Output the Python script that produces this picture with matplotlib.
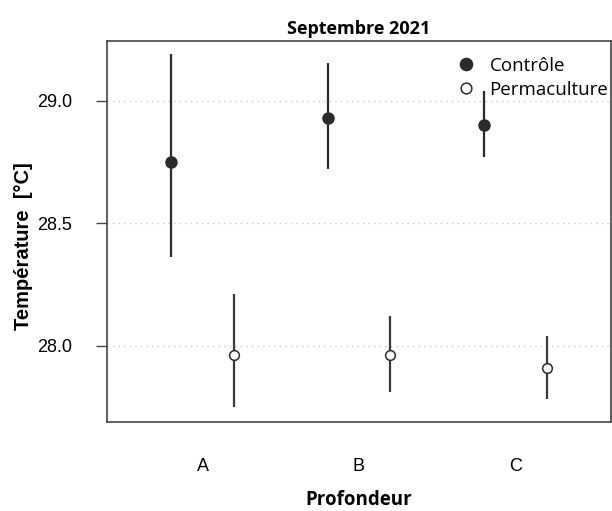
import matplotlib

matplotlib.use("Agg")
import matplotlib.pyplot as plt
import numpy as np

# données
profondeurs = ["A", "B", "C"]
controle_moy = [28.75, 28.93, 28.90]
controle_bas = [28.36, 28.72, 28.77]
controle_haut = [29.19, 29.155, 29.04]
perma_moy = [27.96, 27.96, 27.91]
perma_bas = [27.75, 27.81, 27.78]
perma_haut = [28.21, 28.12, 28.04]
y_ticks = [28.0, 28.5, 29.0]

x = np.arange(1, len(profondeurs) + 1)
dodge = 0.2
col = "#2b2b2b"

fig = plt.figure(figsize=(6.12, 5.11), dpi=100)
ax = fig.add_axes([0.175, 0.174, 0.823, 0.746])

for yt in y_ticks:
    ax.axhline(yt, color="#c8c8c8", lw=1.0, ls=(0, (1, 3)), zorder=0)

ax.vlines(x - dodge, controle_bas, controle_haut, color=col, lw=1.6, zorder=2)
ax.plot(x - dodge, controle_moy, "o", ms=8, color=col, mec=col, zorder=3, label="Contrôle")
ax.vlines(x + dodge, perma_bas, perma_haut, color="#3a3a3a", lw=1.6, zorder=2)
ax.plot(x + dodge, perma_moy, "o", ms=7, mfc="white", mec=col, mew=1.1, zorder=3,
        label="Permaculture")

ax.set_xlim(0.39, 3.61)
ax.set_ylim(27.687, 29.245)
ax.set_xticks(x)
ax.set_xticklabels(profondeurs, family="Liberation Sans", fontsize=13)
ax.set_yticks(y_ticks)
ax.set_yticklabels([f"{v:.1f}" for v in y_ticks], family="Liberation Sans", fontsize=13)
ax.tick_params(axis="x", length=0, pad=26)
ax.tick_params(axis="y", length=8, width=1, color="#444444", pad=17)

for s in ("left", "top", "bottom", "right"):
    ax.spines[s].set_color("#444444")
    ax.spines[s].set_linewidth(1.2)

ax.set_xlabel("Profondeur", family="Open Sans", fontweight="bold", fontsize=13.5, labelpad=11)
ax.set_ylabel("Température  [°C]", family="Liberation Sans", fontweight="bold", fontsize=14.5, labelpad=6)
ax.yaxis.set_label_coords(-0.148, 0.462)
ax.set_title("Septembre 2021", family="Open Sans", fontweight="bold", fontsize=13, pad=5)

leg = ax.legend(loc="upper left", bbox_to_anchor=(0.694, 0.958), frameon=False,
                prop={"family": "Open Sans", "size": 13.5}, handletextpad=0.75,
                borderaxespad=0, borderpad=0, labelspacing=0.3, handlelength=1.0,
                markerscale=1.1)

fig.savefig("out.png", dpi=100)
